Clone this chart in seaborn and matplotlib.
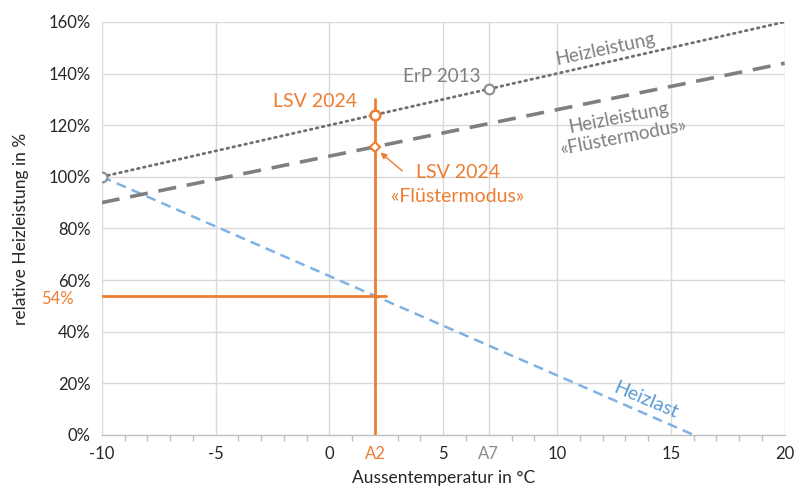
import matplotlib
matplotlib.use("Agg")
import matplotlib.pyplot as plt
import seaborn as sns
import pandas as pd
from matplotlib.ticker import FuncFormatter

# ---- data ----
temps_leistung = [-10, 20]
heizleistung = [100, 160]
heizleistung_fluester = [90, 144]
temps_last = [-10, 16]
heizlast = [100, 0]

a2_temp = 2
a7_temp = 7
lsv_point = 124
lsv_fluester_point = 111.6
erp_point = 134
start_point = 100
last_at_a2 = 54
a2_line_top = 130

x_ticks = [-10, -5, 0, 2, 5, 7, 10, 15, 20]
x_ticklabels = ["-10", "-5", "0", "A2", "5", "A7", "10", "15", "20"]
y_ticks = [0, 20, 40, 60, 80, 100, 120, 140, 160]

ORANGE = "#ED7D31"
GRAY_DOT = "#6f6f6f"
GRAY_DASH = "#7f7f7f"
BLUE = "#7FB2E2"
TXT = "#262626"

sns.set_theme(style="white")
plt.rcParams["font.family"] = ["Lato", "DejaVu Sans"]

fig = plt.figure(figsize=(7.95, 4.87), dpi=100)
ax = fig.add_axes([0.128, 0.107, 0.859, 0.848])

df1 = pd.DataFrame({"T": temps_leistung, "v": heizleistung})
df2 = pd.DataFrame({"T": temps_leistung, "v": heizleistung_fluester})
df3 = pd.DataFrame({"T": temps_last, "v": heizlast})

# grid
for t in [-10, -5, 0, 5, 7, 10, 15, 20]:
    ax.axvline(t, color="#d9d9d9", lw=1, zorder=0)
for y in y_ticks[1:]:
    ax.axhline(y, color="#d9d9d9", lw=1, zorder=0)

sns.lineplot(data=df3, x="T", y="v", ax=ax, color=BLUE, lw=1.8, zorder=3)
ax.lines[-1].set_dashes([4, 2.5])
sns.lineplot(data=df2, x="T", y="v", ax=ax, color=GRAY_DASH, lw=2.6, zorder=3)
ax.lines[-1].set_dashes([5, 3])
sns.lineplot(data=df1, x="T", y="v", ax=ax, color=GRAY_DOT, lw=2.0, zorder=3)
ax.lines[-1].set_dashes([0.6, 1.6])
ax.lines[-1].set_dash_capstyle("round")

# orange guide lines
ax.plot([a2_temp, a2_temp], [0, a2_line_top], color=ORANGE, lw=2, zorder=4)
ax.plot([-10, 2.5], [last_at_a2, last_at_a2], color=ORANGE, lw=2, zorder=4)

# markers
ax.plot([-10, a7_temp], [start_point, erp_point], ls="none", marker="o", ms=7,
        mfc="white", mec="#8c8c8c", mew=1.5, zorder=5)
ax.plot([a2_temp], [lsv_point], ls="none", marker="o", ms=7,
        mfc="white", mec=ORANGE, mew=1.8, zorder=5)
ax.plot([a2_temp], [lsv_fluester_point], ls="none", marker="D", ms=5.5,
        mfc="white", mec=ORANGE, mew=1.5, zorder=5)

ax.set_xlim(-10, 20)
ax.set_ylim(0, 160)
ax.set_xticks(x_ticks)
ax.set_xticklabels(x_ticklabels)
ax.set_xticks(range(-10, 21), minor=True)
ax.set_yticks(y_ticks)
ax.yaxis.set_major_formatter(FuncFormatter(lambda v, p: f"{v:.0f}%"))

for lbl in ax.get_xticklabels():
    t = lbl.get_text()
    if t == "A2":
        lbl.set_color(ORANGE)
    elif t == "A7":
        lbl.set_color("#8c8c8c")
    else:
        lbl.set_color(TXT)
for lbl in ax.get_yticklabels():
    lbl.set_color(TXT)

ax.tick_params(axis="x", which="minor", direction="out", length=4, width=1,
               color="#bfbfbf", bottom=True)
ax.tick_params(axis="x", which="major", length=0, labelsize=12, pad=8)
ax.tick_params(axis="y", length=0, labelsize=12, pad=8)

for s in ["top", "right", "left"]:
    ax.spines[s].set_visible(False)
ax.spines["bottom"].set_color("#bfbfbf")
ax.spines["bottom"].set_linewidth(1)

ax.set_xlabel("Aussentemperatur in °C", fontsize=12.5, color=TXT)
ax.xaxis.set_label_coords(0.5, -0.085)
ax.set_ylabel("relative Heizleistung in %", fontsize=12.5, color=TXT, labelpad=14)

# annotations
ax.text(-0.65, 129, "LSV 2024", color=ORANGE, fontsize=14, ha="center", va="center")
ax.text(5.63, 97, "LSV 2024\n«Flüstermodus»", color=ORANGE, fontsize=14,
        ha="center", va="center", linespacing=1.5)
ax.annotate("", xy=(2.24, 109.4), xytext=(3.2, 102.3),
            arrowprops=dict(arrowstyle="-|>", color=ORANGE, lw=1, mutation_scale=9,
                            shrinkA=0, shrinkB=0))
ax.text(4.93, 139, "ErP 2013", color="#7f7f7f", fontsize=13.5, ha="center", va="center")
ax.text(12.1, 149.5, "Heizleistung", color="#7f7f7f", fontsize=13.5, ha="center",
        va="center", rotation=12)
ax.text(12.8, 119, "Heizleistung\n«Flüstermodus»", color="#7f7f7f", fontsize=13.5,
        ha="center", va="center", rotation=11, linespacing=1.25)
ax.text(13.9, 13.6, "Heizlast", color="#5B9BD5", fontsize=14, ha="center",
        va="center", rotation=-23)
ax.text(-11.93, last_at_a2 - 1.5, "54%", color=ORANGE, fontsize=12, ha="center",
        va="center", clip_on=False)

fig.savefig("out.png", dpi=100)
